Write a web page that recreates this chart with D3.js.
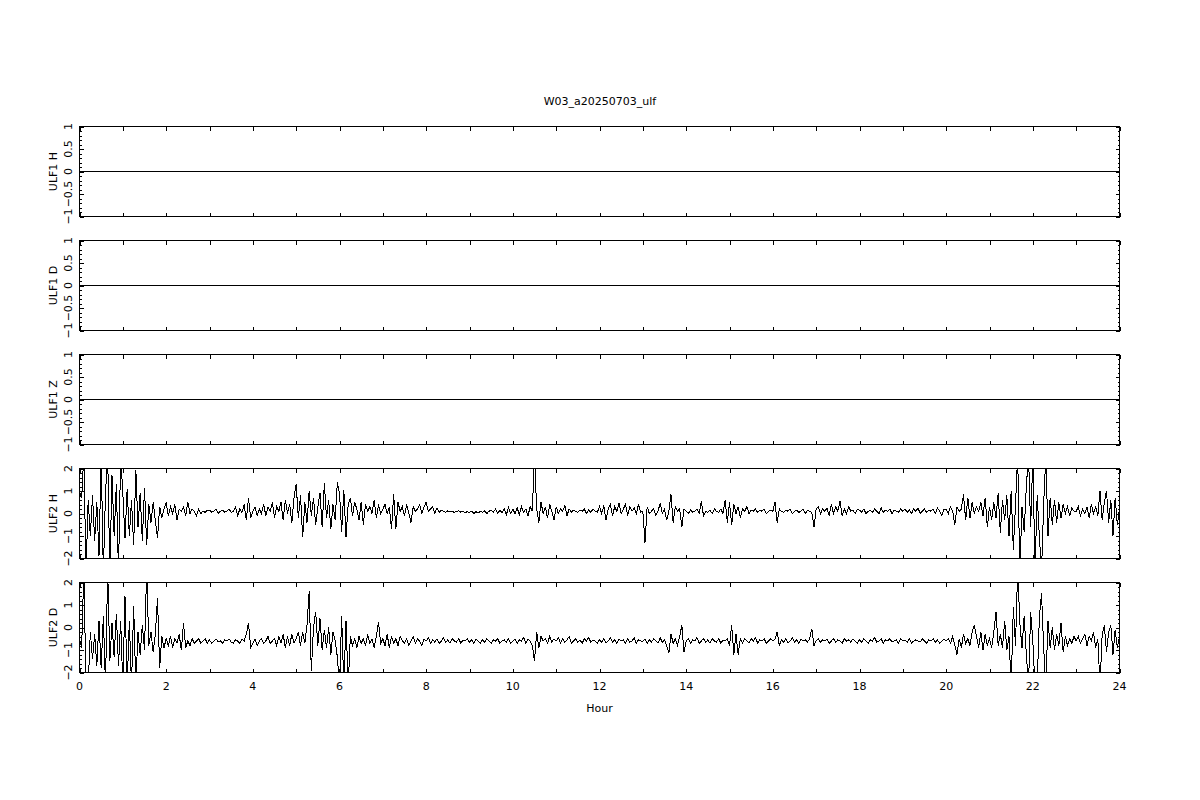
<!DOCTYPE html>
<html><head><meta charset="utf-8">
<script src="https://cdn.jsdelivr.net/npm/d3@7"></script>
<style>
body{margin:0;background:#fff}
svg{display:block}
text{font-family:"DejaVu Sans",sans-serif;font-size:11px;fill:#000}
</style>
</head><body><svg id="c" width="1200" height="800"></svg>
<script>
const title = "W03_a20250703_ulf";
const xTitle = "Hour";
const panelNames = ["ULF1 H", "ULF1 D", "ULF1 Z", "ULF2 H", "ULF2 D"];
const ulf1Labels = [-1, -0.5, 0, 0.5, 1];
const ulf2Labels = [-2, -1, 0, 1, 2];
const xLabels = [0, 2, 4, 6, 8, 10, 12, 14, 16, 18, 20, 22, 24];
const hourTicks = [0,1,2,3,4,5,6,7,8,9,10,11,12,13,14,15,16,17,18,19,20,21,22,23,24];
const sampleStep = 0.05; // hours between samples (3 min)

const ulf1Times = [0, 24];
const ulf1H = [0, 0];
const ulf1D = [0, 0];
const ulf1Z = [0, 0];

const ulf2H = [
 1.0, 0.7, 2.6, -2.6, 0.6, -1.0, 0.8, -1.2, 0.5, -1.9, 2.6, -2.6, 0.9, 2.6, -2.6, 1.7, -1.0, 1.3, -2.6, 2.6,
 0.9, -1.1, 1.1, -1.0, 0.6, -1.4, 1.95, -0.6, 0.9, -1.2, 1.15, -1.4, 0.4, -0.4, 0.5, -0.3, -1.1, 0.3, -0.2, 0.2,
 0.5, -0.1, 0.3, 0.0, 0.4, -0.3, 0.2, 0.1, 0.3, -0.1, 0.5, 0.0, 0.2, 0.1, -0.1, 0.2, 0.0, 0.1, 0.05, 0.15,
 0.15, 0.05, 0.1, 0.2, 0.0, 0.1, 0.15, 0.05, 0.1, 0.2, 0.05, 0.1, 0.3, -0.1, 0.2, 0.05, 0.4, -0.3, 0.7, -0.2,
 0.1, 0.3, -0.1, 0.2, 0.0, 0.4, -0.1, 0.3, 0.1, 0.5, -0.2, 0.3, 0.1, 0.5, -0.3, 0.6, 0.0, 0.4, -0.4, 0.7,
 1.3, -0.2, 0.8, -1.05, 0.5, -0.4, 1.0, -0.1, 0.7, -0.5, 0.3, 0.9, -0.6, 1.35, -0.2, 0.6, -0.7, 0.4, -0.3, 1.4,
 0.9, -0.8, 1.05, -1.05, 0.4, 0.7, -0.1, 0.5, 0.2, -0.3, 0.5, -0.5, 0.4, 0.1, 0.3, 0.0, 0.6, -0.2, 0.4, 0.0,
 0.2, 0.4, 0.0, 0.3, -0.7, 0.85, -0.7, 0.5, 0.1, 0.3, -0.1, 0.4, 0.0, -0.4, 0.3, 0.1, 0.2, 0.4, 0.0, 0.3,
 0.5, 0.1, 0.2, 0.3, 0.0, 0.25, 0.05, 0.15, 0.1, 0.05, 0.12, 0.08, 0.1, 0.05, 0.1, 0.12, 0.06, 0.1, 0.04, 0.08,
 0.05, 0.1, 0.0, 0.08, 0.02, 0.1, 0.05, 0.12, 0.0, 0.1, 0.15, 0.05, 0.2, 0.0, 0.15, 0.05, 0.2, -0.05, 0.25, 0.0,
 0.2, 0.0, 0.25, -0.05, 0.3, 0.05, 0.2, -0.1, 0.3, 0.1, 2.6, 0.2, -0.4, 0.5, 0.0, 0.3, -0.2, 0.4, 0.1, -0.3,
 0.3, 0.0, 0.2, 0.1, 0.35, -0.1, 0.2, 0.05, 0.15, 0.1, 0.05, 0.15, 0.1, 0.2, 0.0, 0.15, 0.05, 0.2, 0.1, 0.05,
 0.3, 0.0, 0.35, -0.3, 0.2, 0.4, -0.1, 0.3, 0.1, 0.45, 0.0, 0.2, 0.4, -0.1, 0.3, 0.1, 0.25, 0.0, 0.4, 0.05,
 0.1, -1.3, 0.3, 0.0, 0.1, 0.2, -0.1, 0.1, 0.45, 0.0, 0.2, -0.3, 0.1, 0.85, -0.4, 0.3, 0.1, 0.2, -0.6, 0.2,
 0.1, 0.0, 0.15, 0.05, 0.1, 0.2, 0.0, 0.55, -0.1, 0.1, 0.05, 0.15, 0.0, 0.2, 0.1, 0.05, 0.2, 0.0, 0.6, -0.4,
 0.5, -0.5, 0.4, 0.0, 0.3, -0.2, 0.2, 0.1, 0.3, 0.0, 0.15, 0.1, 0.2, 0.05, 0.15, 0.1, 0.2, 0.0, 0.1, 0.15,
 0.1, 0.5, -0.4, 0.2, 0.1, 0.05, 0.15, 0.1, 0.2, 0.0, 0.1, 0.15, 0.05, 0.1, 0.2, 0.0, 0.15, 0.1, 0.05, -0.6,
 0.2, 0.3, 0.0, 0.2, 0.1, 0.25, -0.1, 0.4, 0.0, 0.3, 0.1, 0.55, -0.1, 0.2, 0.0, 0.3, 0.1, 0.15, 0.0, 0.2,
 0.15, 0.05, 0.2, 0.0, 0.1, 0.15, 0.05, 0.2, 0.1, 0.0, 0.25, 0.05, 0.15, 0.1, 0.2, 0.0, 0.15, 0.1, 0.05, 0.2,
 0.1, 0.2, 0.05, 0.15, 0.0, 0.2, 0.1, 0.25, 0.0, 0.1, 0.2, 0.05, 0.15, 0.1, 0.2, 0.0, 0.25, 0.1, -0.1, 0.2,
 0.2, 0.0, 0.3, 0.1, -0.5, 0.3, 0.1, 0.2, 0.85, -0.3, 0.7, -0.2, 0.5, 0.0, 0.3, 0.1, 0.5, -0.1, 0.7, -0.6,
 0.3, -0.3, 0.5, -0.2, 0.9, -0.85, 0.6, -0.3, 0.8, -1.0, 1.0, -1.6, 0.4, 2.6, -2.6, 0.3, -0.8, 1.2, 2.6, -0.6,
 2.6, -2.6, 0.8, -1.0, -2.6, 0.4, 2.6, -1.0, 0.7, -0.5, 0.6, -0.4, 0.5, -0.2, 0.4, 0.0, 0.3, -0.1, 0.25, 0.1,
 0.1, 0.3, -0.1, 0.2, 0.0, 0.3, -0.2, 0.4, 0.0, 0.3, -0.1, 1.0, -0.3, 0.5, 1.0, -0.4, 0.6, -0.98, 0.7, -0.5,
 0.2
];

const ulf2D = [
 -0.5, -0.9, 2.6, -2.6, -2.6, -0.2, -1.4, -0.3, -1.7, 0.3, -1.8, 0.5, -2.6, 2.6, -1.5, 0.2, -1.3, 0.6, -1.7, 0.3,
 -2.6, 1.4, -2.6, 0.3, -2.6, 0.95, -2.6, -0.2, -1.2, 0.1, -1.0, 2.6, -0.8, -0.2, -1.1, -0.3, 1.3, -1.8, -0.4, -0.9,
 -0.5, -0.8, -0.4, -0.9, -0.5, -0.7, -0.3, -1.0, 0.2, -0.9, -0.6, -0.8, -0.5, -0.7, -0.6, -0.5, -0.7, -0.6, -0.5, -0.7,
 -0.55, -0.7, -0.6, -0.5, -0.65, -0.6, -0.7, -0.55, -0.6, -0.5, -0.65, -0.7, -0.55, -0.6, -0.7, -0.5, -0.6, -0.3, 0.2, -0.9,
 -0.7, -0.5, -0.8, -0.6, -0.5, -0.7, -0.6, -0.4, -0.7, -0.6, -0.5, -0.8, -0.4, -0.7, -0.3, -0.9, -0.4, -0.8, -0.3, -0.7,
 -0.5, -0.2, -0.8, -0.2, -0.7, 0.1, 1.6, -1.95, 0.0, 0.7, -0.8, 0.4, -1.0, -0.1, -0.9, 0.0, -1.2, -0.2, -0.6, -1.3,
 -2.6, 0.5, -2.6, 0.3, -2.6, -0.4, -0.8, -0.5, -0.9, -0.4, -0.7, -0.5, -0.8, -0.3, -0.7, -0.5, -0.9, -0.4, 0.25, -0.7,
 -0.5, -0.8, -0.3, -0.9, -0.4, -0.7, -0.5, -0.8, -0.4, -0.6, -0.7, -0.5, -0.8, -0.6, -0.4, -0.7, -0.5, -0.6, -0.8, -0.5,
 -0.6, -0.45, -0.7, -0.55, -0.65, -0.5, -0.7, -0.6, -0.45, -0.65, -0.55, -0.7, -0.5, -0.6, -0.65, -0.5, -0.7, -0.55, -0.6, -0.5,
 -0.65, -0.55, -0.7, -0.5, -0.6, -0.7, -0.55, -0.65, -0.5, -0.6, -0.7, -0.55, -0.6, -0.5, -0.7, -0.6, -0.55, -0.65, -0.5, -0.7,
 -0.6, -0.5, -0.7, -0.55, -0.6, -0.45, -0.7, -0.5, -0.6, -0.8, -1.5, -0.2, -0.9, -0.4, -0.6, -0.5, -0.7, -0.4, -0.65, -0.5,
 -0.6, -0.45, -0.7, -0.5, -0.65, -0.55, -0.4, -0.7, -0.6, -0.5, -0.65, -0.55, -0.7, -0.5, -0.6, -0.45, -0.65, -0.55, -0.6, -0.7,
 -0.55, -0.65, -0.5, -0.7, -0.6, -0.45, -0.65, -0.55, -0.7, -0.5, -0.6, -0.55, -0.7, -0.5, -0.65, -0.6, -0.45, -0.7, -0.55, -0.6,
 -0.6, -0.5, -0.7, -0.55, -0.65, -0.5, -0.6, -0.7, -0.45, -0.65, -0.55, -0.8, -1.15, -0.3, -0.7, -0.5, -0.8, -0.4, 0.1, -1.1,
 -0.6, -0.5, -0.7, -0.55, -0.6, -0.45, -0.7, -0.6, -0.5, -0.65, -0.55, -0.7, -0.5, -0.6, -0.65, -0.5, -0.7, -0.55, -0.6, -0.5,
 -0.8, 0.1, -1.2, -0.3, -1.2, -0.5, -0.7, -0.5, -0.6, -0.7, -0.5, -0.6, -0.45, -0.7, -0.55, -0.6, -0.5, -0.7, -0.6, -0.5,
 -0.6, -0.5, -0.2, -0.8, -0.55, -0.65, -0.5, -0.7, -0.6, -0.45, -0.65, -0.55, -0.7, -0.5, -0.6, -0.55, -0.65, -0.5, -0.05, -0.8,
 -0.6, -0.5, -0.65, -0.55, -0.6, -0.5, -0.7, -0.6, -0.5, -0.65, -0.55, -0.6, -0.7, -0.5, -0.6, -0.55, -0.65, -0.5, -0.6, -0.7,
 -0.55, -0.65, -0.5, -0.6, -0.7, -0.55, -0.6, -0.45, -0.65, -0.6, -0.5, -0.7, -0.55, -0.6, -0.5, -0.65, -0.6, -0.55, -0.7, -0.5,
 -0.6, -0.55, -0.65, -0.5, -0.7, -0.6, -0.55, -0.6, -0.65, -0.5, -0.6, -0.7, -0.55, -0.6, -0.5, -0.65, -0.55, -0.7, -0.6, -0.5,
 -0.6, -0.5, -0.7, -0.4, -0.8, -1.2, -0.5, -0.9, -0.3, -0.7, -0.5, -0.8, -0.2, 0.1, -0.4, -0.9, -0.2, -1.0, -0.3, -0.8,
 -0.5, -0.9, -0.2, 0.7, -0.8, -0.3, -0.9, 0.3, -1.0, -0.4, -2.6, 0.9, -0.8, 2.6, 0.2, -0.9, 0.5, -1.2, -2.6, 0.7,
 -0.6, -2.6, -2.6, 0.4, 1.55, -0.9, -2.6, 0.3, -0.9, 0.0, -1.0, -0.3, -0.8, 0.2, -1.1, -0.4, -0.8, -0.5, -0.7, -0.4,
 -0.6, -0.4, -0.7, -0.5, -0.3, -0.8, -0.4, -0.6, -0.2, -0.9, -0.5, -2.6, -0.3, 0.1, -1.1, -0.2, 0.1, -1.2, -0.1, -0.9,
 -0.4
];

const svg = d3.select("#c");
const W = 1200;
const left = 79.5, right = 1119.5;
const panelTop0 = 126.5, panelStep = 114, panelH = 90;

const x = d3.scaleLinear().domain([0, 24]).range([left, right]);

const series = [
  {name: panelNames[0], t: ulf1Times, v: ulf1H, dom: [-1, 1], labels: ulf1Labels, minor: 0.1, major: 0.5},
  {name: panelNames[1], t: ulf1Times, v: ulf1D, dom: [-1, 1], labels: ulf1Labels, minor: 0.1, major: 0.5},
  {name: panelNames[2], t: ulf1Times, v: ulf1Z, dom: [-1, 1], labels: ulf1Labels, minor: 0.1, major: 0.5},
  {name: panelNames[3], t: ulf2H.map((_, i) => i * sampleStep), v: ulf2H, dom: [-2, 2], labels: ulf2Labels, minor: 0.2, major: 1},
  {name: panelNames[4], t: ulf2D.map((_, i) => i * sampleStep), v: ulf2D, dom: [-2, 2], labels: ulf2Labels, minor: 0.2, major: 1}
];

svg.append("text").attr("x", 600).attr("y", 104.5).attr("text-anchor", "middle").text(title);

const fmt = v => (v < 0 ? "\u2212" : "") + Math.abs(v);

series.forEach((s, k) => {
  const top = panelTop0 + panelStep * k;
  const bottom = top + panelH;
  const y = d3.scaleLinear().domain(s.dom).range([bottom, top]);
  const g = svg.append("g");

  const clipId = "clip" + k;
  svg.append("clipPath").attr("id", clipId)
    .append("rect").attr("x", left).attr("y", top).attr("width", right - left).attr("height", bottom - top);

  // trace
  const line = d3.line().x((d, i) => x(s.t[i])).y(d => y(d));
  g.append("path").datum(s.v)
    .attr("clip-path", `url(#${clipId})`)
    .attr("d", line)
    .attr("fill", "none").attr("stroke", "#000").attr("stroke-width", 1)
    .attr("stroke-linejoin", "miter").attr("shape-rendering", "crispEdges");

  // x ticks top & bottom
  const ax = (axis, ty) => {
    const a = g.append("g").attr("transform", `translate(0,${ty})`)
      .call(axis.tickValues(hourTicks).tickSize(-4).tickFormat(""));
    a.select(".domain").remove();
    a.selectAll("line").attr("shape-rendering", "crispEdges");
  };
  ax(d3.axisTop(x), top);
  ax(d3.axisBottom(x), bottom);

  // y ticks left & right
  const n = Math.round((s.dom[1] - s.dom[0]) / s.minor);
  const minorT = d3.range(0, n + 1).map(i => +(s.dom[0] + i * s.minor).toFixed(3));
  const isMajor = v => Math.abs(v / s.major - Math.round(v / s.major)) < 1e-6;
  const minors = minorT.filter(v => !isMajor(v));
  const majors = minorT.filter(isMajor);
  const ay = (axis, tx, vals, len) => {
    const a = g.append("g").attr("transform", `translate(${tx},0)`)
      .call(axis.tickValues(vals).tickSize(-len).tickFormat(""));
    a.select(".domain").remove();
    a.selectAll("line").attr("shape-rendering", "crispEdges");
  };
  ay(d3.axisLeft(y), left, minors, 2);
  ay(d3.axisLeft(y), left, majors, 4);
  ay(d3.axisRight(y), right, minors, 2);
  ay(d3.axisRight(y), right, majors, 4);

  // frame
  g.append("rect").attr("x", left).attr("y", top).attr("width", right - left).attr("height", bottom - top)
    .attr("fill", "none").attr("stroke", "#000").attr("stroke-width", 1).attr("shape-rendering", "crispEdges");

  // y tick labels (rotated)
  s.labels.forEach(v => {
    g.append("text").attr("text-anchor", "middle")
      .attr("transform", `translate(72,${y(v)}) rotate(-90)`)
      .text(fmt(v));
  });
  // y title
  g.append("text").attr("text-anchor", "middle")
    .attr("transform", `translate(57,${(top + bottom) / 2}) rotate(-90)`)
    .text(s.name);

  if (k === series.length - 1) {
    xLabels.forEach(v => {
      g.append("text").attr("x", x(v)).attr("y", bottom + 17).attr("text-anchor", "middle").text(v);
    });
    g.append("text").attr("x", (left + right) / 2).attr("y", bottom + 39).attr("text-anchor", "middle").text(xTitle);
  }
});
</script>
</body></html>
